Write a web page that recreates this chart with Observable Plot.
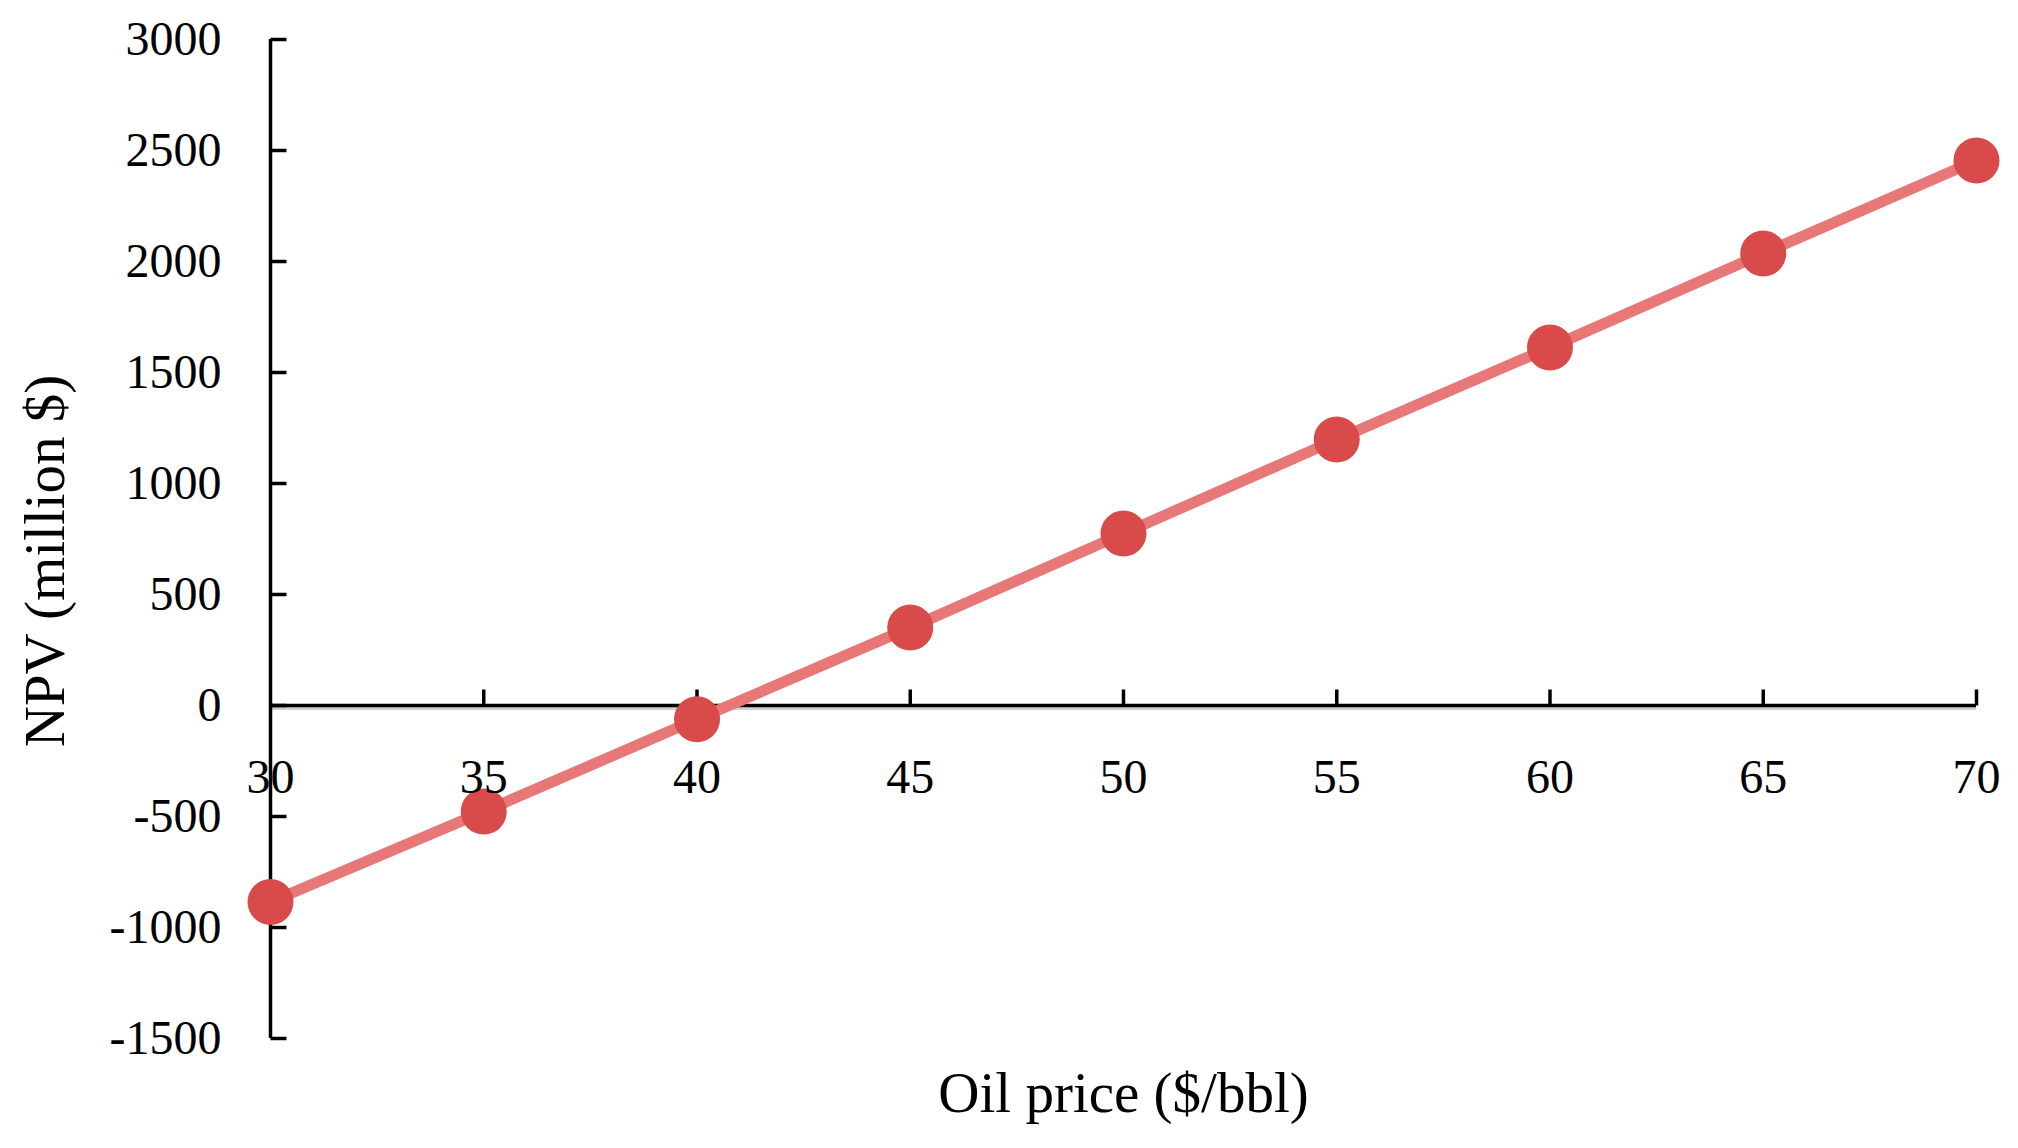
<!DOCTYPE html>
<html>
<head>
<meta charset="utf-8">
<script src="https://cdn.jsdelivr.net/npm/d3@7"></script>
<script src="https://cdn.jsdelivr.net/npm/@observablehq/plot@0.6"></script>
<style>
  html, body { margin: 0; padding: 0; background: #fff; }
  #chart { width: 2018px; height: 1148px; }
</style>
</head>
<body>
<div id="chart"></div>
<script>
const oilPrice = [30, 35, 40, 45, 50, 55, 60, 65, 70];
const npv = [-885, -478, -62, 351, 775, 1198, 1613, 2036, 2455];
const yTicks = [-1500, -1000, -500, 0, 500, 1000, 1500, 2000, 2500, 3000];
const xTicks = [30, 35, 40, 45, 50, 55, 60, 65, 70];
const xLabel = "Oil price ($/bbl)";
const yLabel = "NPV (million $)";

const data = oilPrice.map((x, i) => ({x, y: npv[i]}));
const font = "'Palatino Linotype', 'Book Antiqua', Palatino, 'Liberation Serif', serif";

// custom tick symbols (length from r)
const tickRight = {draw(ctx, size) { const l = Math.sqrt(size / Math.PI); ctx.moveTo(0, 0); ctx.lineTo(l, 0); }};
const tickUp = {draw(ctx, size) { const l = Math.sqrt(size / Math.PI); ctx.moveTo(0, 0); ctx.lineTo(0, -l); }};

const chart = Plot.plot({
  width: 2018,
  height: 1148,
  marginLeft: 270,
  marginRight: 42,
  marginTop: 39,
  marginBottom: 110,
  style: {fontFamily: font, background: "#fff", color: "#000"},
  x: {domain: [30, 70]},
  y: {domain: [-1500, 3000]},
  marks: [
    Plot.axisY({ticks: yTicks, tickSize: 0, tickPadding: 49, fontSize: 48, label: null, tickFormat: d => String(d)}),
    Plot.axisX({ticks: [], label: null, tickSize: 0}),
    Plot.ruleY([0], {x1: 30, x2: 70, stroke: "#d0d0d0", strokeWidth: 3, dy: 3}),
    Plot.ruleX([30], {y1: -1500, y2: 3000, stroke: "#000", strokeWidth: 3.5}),
    Plot.ruleY([0], {x1: 30, x2: 70, stroke: "#000", strokeWidth: 3.5}),
    Plot.dot(yTicks, {x: 30, y: d => d, symbol: tickRight, r: 16, stroke: "#000", strokeWidth: 3.5, fill: "none"}),
    Plot.dot(xTicks.filter(d => d !== 30), {x: d => d, y: 0, symbol: tickUp, r: 16, stroke: "#000", strokeWidth: 3.5, fill: "none"}),
    Plot.line(data, {x: "x", y: "y", stroke: "#e87878", strokeWidth: 11}),
    Plot.dot(data, {x: "x", y: "y", r: 23, fill: "#d94a4a"}),
    Plot.text(xTicks, {x: d => d, y: 0, text: d => String(d), dy: 72, fontSize: 48, fill: "#000"}),
    Plot.text([xLabel], {frameAnchor: "bottom", dy: 73, text: d => d, fontSize: 57, fill: "#000"}),
    Plot.text([yLabel], {frameAnchor: "left", textAnchor: "middle", dx: -225, dy: 22, rotate: -90, text: d => d, fontSize: 57, fill: "#000"})
  ]
});
document.getElementById("chart").appendChild(chart);
</script>
</body>
</html>
